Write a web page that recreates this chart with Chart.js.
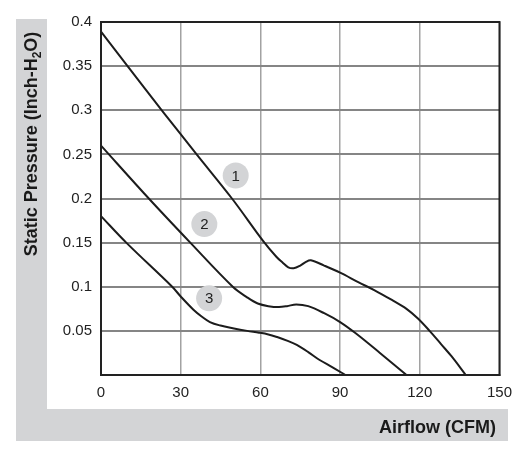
<!DOCTYPE html>
<html>
<head>
<meta charset="utf-8">
<script src="https://cdn.jsdelivr.net/npm/chart.js@4/dist/chart.umd.min.js"></script>
<style>
  html, body { margin: 0; padding: 0; background: #fff; }
  #wrap { position: relative; width: 521px; height: 452px; }
</style>
</head>
<body>
<div id="wrap"><canvas id="chart" width="521" height="452"></canvas></div>
<script>
// fan curves
const airflow1 = [0, 10, 23.4, 36, 49.3, 61, 66, 68.5, 70.5, 72.5, 75, 77, 79, 84, 90, 97, 103, 109.5, 115, 119.3, 123.7, 128, 132, 137.3];
const pressure1 = [0.389, 0.35, 0.298, 0.25, 0.2, 0.152, 0.134, 0.127, 0.122, 0.121, 0.124, 0.128, 0.13, 0.124, 0.116, 0.105, 0.096, 0.085, 0.075, 0.064, 0.05, 0.035, 0.021, 0];

const airflow2 = [0, 18, 33.6, 49.6, 55, 59, 63, 67, 70, 73.5, 78, 84, 90, 96, 105, 115];
const pressure2 = [0.26, 0.2, 0.15, 0.1, 0.088, 0.081, 0.078, 0.077, 0.078, 0.08, 0.078, 0.07, 0.06, 0.047, 0.025, 0];

const airflow3 = [0, 9.5, 26.8, 30, 34.8, 38, 41, 45, 49.6, 55, 59.5, 63, 66.3, 70, 73.7, 78, 82.3, 87, 92];
const pressure3 = [0.18, 0.15, 0.1, 0.089, 0.074, 0.066, 0.06, 0.056, 0.053, 0.05, 0.048, 0.046, 0.043, 0.039, 0.034, 0.026, 0.017, 0.009, 0];

// numbered bubbles next to the curves
const tagNames = ["1", "2", "3"];
const tagX = [50.7, 38.9, 40.7];
const tagY = [0.226, 0.171, 0.087];

const xTickLabels = ["0", "30", "60", "90", "120", "150"];
const yTickLabels = ["", "0.05", "0.1", "0.15", "0.2", "0.25", "0.3", "0.35", "0.4"];

const FONT = "'Liberation Sans', Arial, Helvetica, sans-serif";
const GREY = "#d3d4d6";

function pts(xs, ys) {
  return xs.map((x, i) => ({ x: x, y: ys[i] }));
}

function curve(xs, ys) {
  return {
    type: "scatter",
    data: pts(xs, ys),
    showLine: true,
    borderColor: "#1c1c1c",
    borderWidth: 2,
    pointRadius: 0,
    tension: 0.35,
    fill: false,
  };
}

// grey L frame, axis titles, plot border, bubble numbers
const decor = {
  id: "decor",
  beforeDraw(chart) {
    const ctx = chart.ctx;
    ctx.save();
    ctx.fillStyle = GREY;
    ctx.fillRect(16, 19, 31, 422);
    ctx.fillRect(16, 409, 492, 32);

    ctx.fillStyle = "#1a1a1a";
    ctx.font = "bold 18px " + FONT;
    ctx.textAlign = "right";
    ctx.textBaseline = "middle";
    ctx.fillText("Airflow (CFM)", 496, 428);

    // rotated y title with subscript 2
    ctx.translate(31, 144);
    ctx.rotate(-Math.PI / 2);
    const a = "Static Pressure (Inch-H";
    const b = "O)";
    ctx.font = "bold 18px " + FONT;
    const wa = ctx.measureText(a).width;
    const wb = ctx.measureText(b).width;
    ctx.font = "bold 12px " + FONT;
    const ws = ctx.measureText("2").width;
    let x0 = -(wa + ws + wb) / 2;
    ctx.textAlign = "left";
    ctx.textBaseline = "alphabetic";
    ctx.font = "bold 18px " + FONT;
    ctx.fillText(a, x0, 6);
    ctx.font = "bold 12px " + FONT;
    ctx.fillText("2", x0 + wa, 10);
    ctx.font = "bold 18px " + FONT;
    ctx.fillText(b, x0 + wa + ws, 6);
    ctx.restore();
  },
  afterDatasetsDraw(chart) {
    const ctx = chart.ctx;
    const ca = chart.chartArea;
    ctx.save();
    ctx.strokeStyle = "#222";
    ctx.lineWidth = 2;
    ctx.strokeRect(ca.left, ca.top, ca.right - ca.left, ca.bottom - ca.top);

    const meta = chart.getDatasetMeta(3);
    ctx.fillStyle = "#222";
    ctx.font = "15px " + FONT;
    ctx.textAlign = "center";
    ctx.textBaseline = "middle";
    meta.data.forEach((p, i) => {
      ctx.fillText(tagNames[i], p.x, p.y + 1);
    });
    ctx.restore();
  },
};

new Chart(document.getElementById("chart"), {
  type: "scatter",
  data: {
    datasets: [
      curve(airflow1, pressure1),
      curve(airflow2, pressure2),
      curve(airflow3, pressure3),
      {
        type: "scatter",
        data: pts(tagX, tagY),
        pointRadius: 13,
        pointHoverRadius: 13,
        backgroundColor: GREY,
        borderWidth: 0,
      },
    ],
  },
  options: {
    responsive: false,
    animation: false,
    events: [],
    layout: { padding: { top: 22, right: 15, left: 0, bottom: 0 } },
    plugins: { legend: { display: false }, tooltip: { enabled: false } },
    scales: {
      x: {
        type: "linear",
        min: 0,
        max: 150,
        afterFit: (axis) => { axis.height = 77; },
        ticks: {
          stepSize: 30,
          padding: 9,
          color: "#222",
          font: { family: FONT, size: 15 },
          callback: (v, i) => xTickLabels[i],
        },
        grid: { color: "#a2a2a2", lineWidth: 1.5, drawTicks: false },
        border: { color: "#222", width: 2 },
      },
      y: {
        type: "linear",
        min: 0,
        max: 0.4,
        afterFit: (axis) => { axis.width = 101; },
        ticks: {
          stepSize: 0.05,
          padding: 9,
          color: "#222",
          font: { family: FONT, size: 15 },
          callback: (v, i) => yTickLabels[i],
        },
        grid: { color: "#858585", lineWidth: 2, drawTicks: false },
        border: { color: "#222", width: 2 },
      },
    },
  },
  plugins: [decor],
});
</script>
</body>
</html>
